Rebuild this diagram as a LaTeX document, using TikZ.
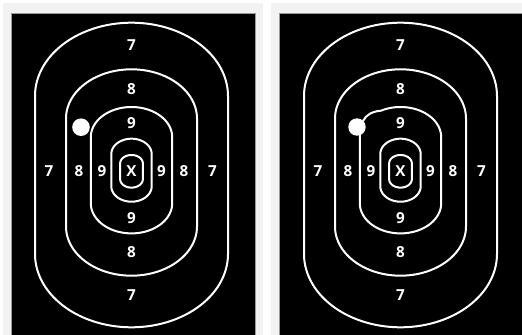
\documentclass[tikz,border=0pt]{standalone}
\usepackage{fontspec}
\setmainfont{Open Sans}
\definecolor{cardgray}{HTML}{F2F2F2}
\definecolor{bordergray}{HTML}{9A9A9A}
% #1 cx, #2 cy, #3 half width, #4 half length of straight sides, #5 cap height
\newcommand\tring[5]{\draw[ring]
  plot[smooth,domain=0:180,samples=61] ({#1+#3*cos(\x)},{#2-#4-#5*sin(\x)})
  -- plot[smooth,domain=0:180,samples=61] ({#1-#3*cos(\x)},{#2+#4+#5*sin(\x)})
  -- cycle;}
\newcommand\targetlabels[1]{%
 \node[lbl] (#1t7) at (131.5,45) {7};
 \node[lbl] (#1t8) at (131.5,89) {8};
 \node[lbl] (#1t9) at (131.5,123) {9};
 \node[lbl] (#1x) at (131.5,171) {X};
 \node[lbl] (#1l7) at (49,171) {7};
 \node[lbl] (#1l8) at (79,171) {8};
 \node[lbl] (#1l9) at (102,171) {9};
 \node[lbl] (#1r9) at (161.5,171) {9};
 \node[lbl] (#1r8) at (184,171) {8};
 \node[lbl] (#1r7) at (212.5,171) {7};
 \node[lbl] (#1b9) at (131.5,218) {9};
 \node[lbl] (#1b8) at (131.5,252) {8};
 \node[lbl] (#1b7) at (131.5,295) {7};
}
\begin{document}
\begin{tikzpicture}[x=0.75pt,y=-0.75pt,
  ring/.style={white,line width=1.5pt},
  lbl/.style={text=white,font=\fontsize{11.4}{13}\selectfont\bfseries,inner sep=0pt},
  card/.style={fill=cardgray,draw=none},
  board/.style={fill=black,draw=bordergray,line width=0.5pt},
  hole/.style={fill=white,draw=none}]
\useasboundingbox (0,0) rectangle (522,335);
\fill[white] (0,0) rectangle (522,335);
\fill[card] (3,3) rectangle (263,336);
\fill[card] (271,3) rectangle (523,336);
\draw[board] (11,13) rectangle (255,337);
\draw[board] (279,13) rectangle (524,337);
% left target
\tring{131.5}{175}{96.5}{79}{73.3}
\tring{131.5}{172.5}{65.5}{54}{49.2}
\tring{131.5}{170.2}{40.7}{33}{30.2}
\tring{131.5}{170.2}{20.2}{16}{15.5}
\tring{131.5}{171.3}{11.3}{8}{8.3}
\targetlabels{a}
\fill[hole] (81,127.2) circle (8.8);
% right target
\begin{scope}[xshift=201.75pt]
\tring{131.5}{175}{96.5}{79}{73.3}
\tring{131.5}{172.5}{65.5}{54}{49.2}
\tring{131.5}{170.2}{20.2}{16}{15.5}
\tring{131.5}{171.3}{11.3}{8}{8.3}
\targetlabels{b}
\end{scope}
\draw[ring] (363,121) .. controls (366,114.5) and (373,111.3) .. (381,110.7)
  -- plot[smooth,domain=118.6:0,samples=40] ({400.5+40.7*cos(\x)},{137.2-30.2*sin(\x)})
  -- plot[smooth,domain=0:180,samples=61] ({400.5+40.7*cos(\x)},{203.2+30.2*sin(\x)})
  -- plot[smooth,domain=180:160,samples=6] ({400.5+40.7*cos(\x)},{137.2-30.2*sin(\x)});
\fill[hole] (357,127) circle (8.7);
\end{tikzpicture}
\end{document}
